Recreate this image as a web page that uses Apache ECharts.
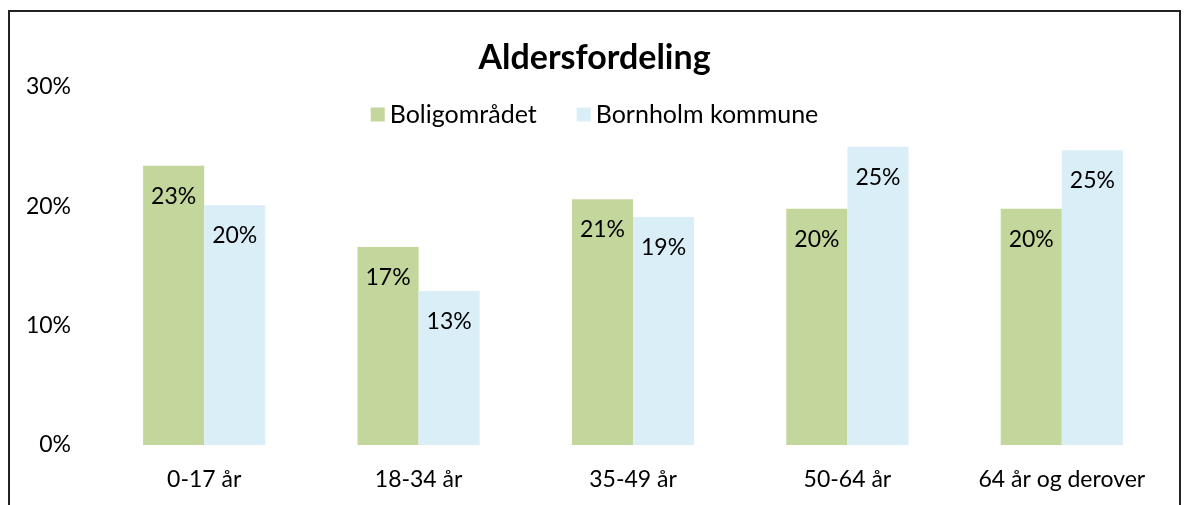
<!DOCTYPE html>
<html lang="da">
<head>
    <meta charset="UTF-8">
    <title>Aldersfordeling</title>
    <style>
        * {
            margin: 0;
            padding: 0;
        }

        body {
            background: #fff;
        }

        #chart {
            width: 1189px;
            height: 505px;
        }
    </style>
</head>
<body>
    <div id="chart"></div>
</body>
</html>
<script src="https://cdn.jsdelivr.net/npm/echarts@6/dist/echarts.min.js"></script>
<script>

    const categories = ['0-17 år', '18-34 år', '35-49 år', '50-64 år', '64 år og derover'];
    const boligomraadet = [23.4, 16.6, 20.6, 19.8, 19.8];
    const bornholm = [20.1, 12.9, 19.1, 25.0, 24.7];
    const yTicks = [0, 10, 20, 30];

    const font = 'Lato, "Noto Sans", sans-serif';

    var myChart = echarts.init(document.getElementById('chart'));

    function barLabel() {
        return {
            show: true,
            position: 'insideTop',
            distance: 19,
            color: '#000',
            fontSize: 23,
            fontFamily: font,
            formatter: (p) => Math.round(p.value) + '%'
        };
    }

    myChart.setOption({
        animation: false,
        textStyle: { fontFamily: font },
        title: {
            text: 'Aldersfordeling',
            left: 'center',
            top: 36,
            textStyle: {
                fontSize: 34,
                fontWeight: 'bold',
                color: '#000',
                fontFamily: font
            }
        },
        legend: {
            top: 97,
            left: 'center',
            itemWidth: 14,
            itemHeight: 14,
            itemGap: 40,
            icon: 'rect',
            textStyle: { fontSize: 25, color: '#000', fontFamily: font },
            data: ['Boligområdet', 'Bornholm kommune']
        },
        graphic: [{
            type: 'rect',
            shape: { x: 9, y: 11, width: 1171, height: 600 },
            style: { fill: 'none', stroke: '#222', lineWidth: 2 },
            silent: true
        }],
        grid: {
            left: 97,
            right: 20,
            top: 87,
            bottom: 60
        },
        xAxis: {
            type: 'category',
            data: categories,
            axisLine: { show: false },
            axisTick: { show: false },
            axisLabel: {
                color: '#000',
                fontSize: 23,
                fontFamily: font,
                margin: 23,
                interval: 0
            }
        },
        yAxis: {
            type: 'value',
            min: yTicks[0],
            max: yTicks[yTicks.length - 1],
            interval: 10,
            splitLine: { show: false },
            axisLine: { show: false },
            axisTick: { show: false },
            axisLabel: {
                color: '#000',
                fontSize: 23,
                fontFamily: font,
                margin: 26,
                formatter: '{value}%'
            }
        },
        series: [{
            name: 'Boligområdet',
            type: 'bar',
            data: boligomraadet,
            barGap: 0,
            barCategoryGap: '43%',
            itemStyle: { color: '#c3d69b' },
            label: barLabel()
        }, {
            name: 'Bornholm kommune',
            type: 'bar',
            data: bornholm,
            barGap: 0,
            barCategoryGap: '43%',
            itemStyle: { color: '#daeef8' },
            label: barLabel()
        }]
    });

</script>
